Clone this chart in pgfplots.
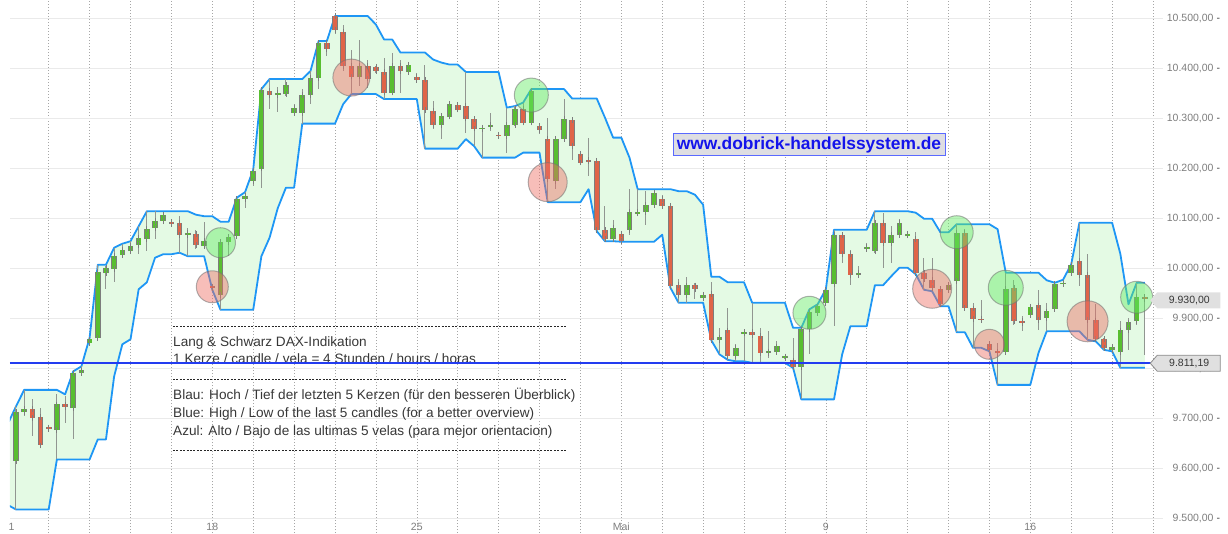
\documentclass[border=0pt]{standalone}
\usepackage{pgfplots}
\pgfplotsset{compat=1.18}
\usepackage{pgfplotstable}
\usepgfplotslibrary{fillbetween}
\usepackage{fontspec}
\setmainfont{Liberation Sans}
\definecolor{candlegreen}{RGB}{88,190,48}
\definecolor{candlered}{RGB}{224,100,72}
\definecolor{bodygray}{RGB}{125,125,125}
\definecolor{wickgray}{RGB}{145,150,145}
\definecolor{bandblue}{RGB}{30,150,245}
\definecolor{bandfill}{RGB}{228,250,228}
\definecolor{priceblue}{RGB}{35,60,240}
\definecolor{gridgray}{RGB}{234,234,234}
\definecolor{labelgray}{RGB}{125,125,125}
\definecolor{textgray}{RGB}{55,55,55}
\definecolor{circgreen}{RGB}{100,235,100}
\definecolor{circred}{RGB}{238,110,100}
\definecolor{wmblue}{RGB}{20,20,235}
\definecolor{wmfill}{RGB}{222,222,226}
\definecolor{wmborder}{RGB}{90,105,255}
\definecolor{tagfill}{RGB}{224,224,224}
\newcommand{\ylabdash}{\hspace{3pt}\textcolor{black!75}{-}}
\pgfplotsset{
  gcirc/.style={only marks, mark=*, mark size=#1, forget plot,
    mark options={fill=circgreen, fill opacity=0.45, draw=black!55, draw opacity=0.55, line width=1pt}},
  rcirc/.style={only marks, mark=*, mark size=#1, forget plot,
    mark options={fill=circred, fill opacity=0.45, draw=black!55, draw opacity=0.55, line width=1pt}},
}

\pgfplotstableread{
i o h l c
1 9615 9725 9519 9714
2 9714 9758 9705 9720
3 9720 9740 9665 9702
4 9704 9722 9642 9647
5 9683 9686 9678 9680
6 9678 9749 9619 9729
7 9729 9745 9692 9724
8 9722 9795 9659 9792
9 9792 9805 9785 9797
10 9852 9862 9849 9859
11 9862 10008 9859 9994
12 9992 10005 9959 10002
13 10000 10042 9973 10025
14 10027 10050 10022 10038
15 10035 10055 10029 10046
16 10048 10085 10029 10061
17 10060 10115 10035 10080
18 10082 10115 10059 10095
19 10095 10108 10092 10107
20 10094 10099 10088 10090
21 10091 10105 10032 10068
22 10068 10082 10025 10072
23 10070 10078 10039 10047
24 10045 10094 10042 10055
25 9965 9969 9958 9962
26 9947 10058 9918 10054
27 10054 10068 10025 10064
28 10065 10142 10062 10139
29 10140 10153 10121 10145
30 10175 10198 10165 10195
31 10200 10359 10162 10357
32 10355 10379 10319 10347
33 10347 10364 10313 10351
34 10349 10379 10345 10368
35 10311 10330 10305 10322
36 10311 10360 10290 10347
37 10347 10395 10329 10381
38 10381 10455 10359 10451
39 10451 10455 10425 10439
40 10505 10505 10470 10477
41 10474 10488 10395 10405
42 10405 10438 10349 10384
43 10384 10458 10365 10405
44 10405 10418 10362 10380
45 10404 10405 10392 10395
46 10393 10422 10339 10352
47 10352 10432 10349 10405
48 10405 10418 10352 10395
49 10393 10412 10392 10408
50 10384 10392 10375 10377
51 10378 10408 10240 10317
52 10315 10335 10279 10287
53 10287 10312 10259 10305
54 10304 10333 10299 10330
55 10327 10330 10315 10318
56 10326 10393 10272 10300
57 10299 10304 10245 10280
58 10279 10288 10222 10282
59 10284 10312 10275 10287
60 10268 10270 10264 10265
61 10265 10322 10232 10287
62 10287 10325 10285 10320
63 10320 10332 10289 10292
64 10292 10359 10289 10356
65 10285 10288 10270 10277
66 10260 10302 10133 10179
67 10175 10264 10159 10260
68 10259 10340 10255 10300
69 10297 10302 10218 10245
70 10230 10235 10209 10212
71 10217 10262 10185 10215
72 10216 10222 10075 10077
73 10077 10125 10055 10059
74 10059 10098 10059 10082
75 10070 10072 10054 10055
76 10078 10159 10068 10113
77 10110 10159 10108 10114
78 10114 10155 10087 10127
79 10127 10155 10125 10152
80 10140 10148 10124 10125
81 10125 10128 9962 9965
82 9967 9980 9932 9947
83 9948 9984 9932 9967
84 9967 9972 9940 9959
85 9941 9948 9940 9948
86 9950 9973 9857 9857
87 9857 9882 9829 9863
88 9877 9921 9818 9825
89 9825 9849 9815 9842
90 9871 9879 9815 9874
91 9874 9932 9812 9868
92 9866 9882 9812 9832
93 9832 9875 9822 9835
94 9834 9855 9830 9845
95 9822 9825 9820 9825
96 9817 9862 9802 9804
97 9804 9882 9739 9879
98 9879 9919 9829 9913
99 9912 9929 9905 9925
100 9932 9959 9930 9957
101 9969 10078 9885 10067
102 10067 10073 10012 10029
103 10030 10037 9967 9987
104 9987 10005 9985 9992
105 10040 10052 10040 10043
106 10035 10115 10032 10092
107 10092 10112 10002 10052
108 10052 10085 10012 10067
109 10068 10100 10062 10092
110 10067 10073 10065 10070
111 10059 10073 9989 9992
112 9992 10022 9958 9980
113 9977 10022 9955 9962
114 9960 9962 9925 9929
115 9958 9972 9955 9968
116 9975 10089 9873 10072
117 10072 10079 9918 9922
118 9921 9931 9842 9900
119 9900 9938 9895 9898
120 9850 9852 9835 9837
121 9835 9852 9768 9832
122 9833 9992 9832 9960
123 9962 9977 9888 9895
124 9895 9905 9875 9892
125 9908 9925 9906 9924
126 9927 9958 9878 9898
127 9902 9932 9875 9915
128 9920 9972 9915 9969
129 9970 9978 9964 9972
130 9992 10009 9990 10007
131 10015 10092 9965 9988
132 9988 10030 9858 9898
133 9897 9929 9855 9860
134 9860 9862 9838 9842
135 9837 9845 9835 9844
136 9833 9895 9802 9877
137 9878 9902 9838 9893
138 9895 9972 9888 9944
139 9944 9945 9828 9940
}\candles

\pgfplotstableread{
i up lo
0 9690 9528
1 9725 9519
2 9758 9519
3 9758 9519
4 9758 9519
5 9758 9519
6 9758 9619
7 9749 9619
8 9795 9619
9 9805 9619
10 9862 9619
11 10008 9659
12 10008 9659
13 10042 9785
14 10050 9849
15 10055 9859
16 10085 9959
17 10115 9973
18 10115 10022
19 10115 10029
20 10115 10029
21 10115 10032
22 10115 10025
23 10108 10025
24 10105 10025
25 10105 9958
26 10094 9918
27 10094 9918
28 10142 9918
29 10153 9918
30 10198 9918
31 10359 10025
32 10379 10062
33 10379 10121
34 10379 10162
35 10379 10162
36 10379 10290
37 10395 10290
38 10455 10290
39 10455 10290
40 10505 10290
41 10505 10329
42 10505 10349
43 10505 10349
44 10505 10349
45 10488 10349
46 10458 10339
47 10458 10339
48 10432 10339
49 10432 10339
50 10432 10339
51 10432 10240
52 10418 10240
53 10412 10240
54 10408 10240
55 10408 10240
56 10393 10259
57 10393 10245
58 10393 10222
59 10393 10222
60 10393 10222
61 10322 10222
62 10325 10222
63 10332 10232
64 10359 10232
65 10359 10232
66 10359 10133
67 10359 10133
68 10359 10133
69 10340 10133
70 10340 10133
71 10340 10159
72 10340 10075
73 10302 10055
74 10262 10055
75 10262 10054
76 10222 10054
77 10159 10054
78 10159 10054
79 10159 10054
80 10159 10068
81 10159 9962
82 10155 9932
83 10155 9932
84 10148 9932
85 10128 9932
86 9984 9857
87 9984 9829
88 9973 9818
89 9973 9815
90 9973 9815
91 9932 9812
92 9932 9812
93 9932 9812
94 9932 9812
95 9932 9812
96 9882 9802
97 9882 9739
98 9919 9739
99 9929 9739
100 9959 9739
101 10078 9739
102 10078 9829
103 10078 9885
104 10078 9885
105 10078 9885
106 10115 9967
107 10115 9967
108 10115 9985
109 10115 10002
110 10115 10002
111 10112 9989
112 10100 9958
113 10100 9955
114 10073 9925
115 10073 9925
116 10089 9873
117 10089 9873
118 10089 9842
119 10089 9842
120 10089 9835
121 10079 9768
122 9992 9768
123 9992 9768
124 9992 9768
125 9992 9768
126 9992 9832
127 9977 9875
128 9972 9875
129 9978 9875
130 10009 9875
131 10092 9875
132 10092 9858
133 10092 9855
134 10092 9838
135 10092 9835
136 10030 9802
137 9929 9802
138 9972 9802
139 9972 9802
}\band

\begin{document}
\begin{tikzpicture}[x=1pt,y=1pt]
% info text block
\begin{scope}[font=\fontsize{13.6}{16}\selectfont, text=textgray]
\draw[black!85, line width=0.6pt, dash pattern=on 2pt off 1.4pt] (173,207) -- (566,207);
\draw[black!85, line width=0.6pt, dash pattern=on 2pt off 1.4pt] (173,154) -- (566,154);
\draw[black!85, line width=0.6pt, dash pattern=on 2pt off 1.4pt] (173,83) -- (566,83);
\node[anchor=west, inner sep=0pt, text height=10pt, text depth=3pt] at (173,190) {Lang \& Schwarz DAX-Indikation};
\node[anchor=west, inner sep=0pt, text height=10pt, text depth=3pt] at (173,173) {1 Kerze / candle / vela = 4 Stunden / hours / horas};
\node[anchor=west, inner sep=0pt, text height=10pt, text depth=3pt] at (173,137) {Blau: Hoch / Tief der letzten 5 Kerzen (für den besseren Überblick)};
\node[anchor=west, inner sep=0pt, text height=10pt, text depth=3pt] at (173,119) {Blue: High / Low of the last 5 candles (for a better overview)};
\node[anchor=west, inner sep=0pt, text height=10pt, text depth=3pt] at (173,101) {Azul: Alto / Bajo de las ultimas 5 velas (para mejor orientacion)};
\end{scope}

\begin{axis}[
  at={(9.85pt,0pt)}, anchor=south west,
  width=1153.4pt, height=533pt, scale only axis,
  xmin=0.25, xmax=141.25, ymin=9472, ymax=10537,
  axis line style={draw=none},
  tick style={draw=none},
  scaled y ticks=false, scaled x ticks=false,
  xtick={25,50,75,100,125},
  xticklabels={18,25,Mai,9,16},
  extra x ticks={0.45},
  extra x tick labels={1},
  extra x tick style={grid=none},
  minor xtick={5,10,...,140},
  xmajorgrids, xminorgrids,
  major x grid style={dash pattern=on 1pt off 2pt, black!35, line width=0.6pt},
  minor x grid style={dash pattern=on 1pt off 2pt, black!35, line width=0.6pt},
  ytick={9500,9600,9700,9800,9900,10000,10100,10200,10300,10400,10500},
  yticklabels={{9.500,00\ylabdash},{9.600,00\ylabdash},{9.700,00\ylabdash},{9.800,00\ylabdash},{9.900,00\ylabdash},{10.000,00\ylabdash},{10.100,00\ylabdash},{10.200,00\ylabdash},{10.300,00\ylabdash},{10.400,00\ylabdash},{10.500,00\ylabdash}},
  ymajorgrids,
  major y grid style={gridgray, line width=1pt},
  yticklabel pos=right,
  x tick label style={anchor=south, inner sep=0pt, yshift=2.5pt, font=\fontsize{10.5}{12}\selectfont, text=labelgray},
  y tick label style={anchor=east, inner sep=0pt, xshift=57pt, font=\fontsize{10.5}{12}\selectfont, text=labelgray},
]
% band
\addplot[draw=none, name path=up, forget plot] table[x=i, y=up] {\band};
\addplot[draw=none, name path=lo, forget plot] table[x=i, y=lo] {\band};
\addplot[bandfill, forget plot] fill between[of=up and lo];
\addplot[bandblue, line width=1.8pt, line join=round, forget plot] table[x=i, y=up] {\band};
\addplot[bandblue, line width=1.8pt, line join=round, forget plot] table[x=i, y=lo] {\band};
% wicks
\addplot[draw=none, mark=none, forget plot,
  error bars/.cd, y dir=both, y explicit,
  error bar style={draw=wickgray, line width=1pt}, error mark=none]
  table[x=i, y expr={(\thisrow{h}+\thisrow{l})/2}, y error expr={(\thisrow{h}-\thisrow{l})/2}] {\candles};
% bodies: border
\addplot[draw=none, mark=none, forget plot,
  error bars/.cd, y dir=both, y explicit,
  error bar style={draw=bodygray, line width=5.6pt}, error mark=none]
  table[x=i, y expr={(\thisrow{o}+\thisrow{c})/2}, y error expr={abs(\thisrow{c}-\thisrow{o})/2}] {\candles};
% green bodies
\addplot[draw=none, mark=none, forget plot,
  restrict expr to domain={\thisrow{c}-\thisrow{o}}{0:5000},
  error bars/.cd, y dir=both, y explicit,
  error bar style={draw=candlegreen, line width=3.8pt},
  error mark=-, error mark options={draw=bodygray, line width=0.8pt, mark size=2.8pt}]
  table[x=i, y expr={(\thisrow{o}+\thisrow{c})/2}, y error expr={abs(\thisrow{c}-\thisrow{o})/2}] {\candles};
% red bodies
\addplot[draw=none, mark=none, forget plot,
  restrict expr to domain={\thisrow{c}-\thisrow{o}}{-5000:0},
  error bars/.cd, y dir=both, y explicit,
  error bar style={draw=candlered, line width=3.8pt},
  error mark=-, error mark options={draw=bodygray, line width=0.8pt, mark size=2.8pt}]
  table[x=i, y expr={(\thisrow{o}+\thisrow{c})/2}, y error expr={abs(\thisrow{c}-\thisrow{o})/2}] {\candles};
% signal circles
\addplot[gcirc=15pt] coordinates {(26,10052)};
\addplot[gcirc=17pt] coordinates {(64,10347)};
\addplot[gcirc=16.5pt] coordinates {(98,9912)};
\addplot[gcirc=16.5pt] coordinates {(116,10073)};
\addplot[gcirc=17.5pt] coordinates {(122,9962)};
\addplot[gcirc=16pt] coordinates {(138,9943)};
\addplot[rcirc=16pt] coordinates {(25,9964)};
\addplot[rcirc=18.5pt] coordinates {(42,10382)};
\addplot[rcirc=19.5pt] coordinates {(66,10173)};
\addplot[rcirc=19.5pt] coordinates {(113,9960)};
\addplot[rcirc=15pt] coordinates {(120,9849)};
\addplot[rcirc=20.5pt] coordinates {(132,9895)};
% last price line
\addplot[priceblue, line width=1.6pt, forget plot] coordinates {(0.25,9811.19) (141.25,9811.19)};
\coordinate (tagA) at (axis cs:141.25,9811.19);
\coordinate (tagB) at (axis cs:141.25,9937);
\end{axis}

% price tags
\draw[fill=tagfill, draw=black!45, line width=0.8pt] ([xshift=-13pt]tagA) -- ++(7,8) -- ++(63,0) -- ++(0,-16) -- ++(-63,0) -- cycle;
\node[font=\fontsize{10.5}{12}\selectfont, text=textgray] at ([xshift=26pt]tagA) {9.811,19};
\draw[fill=tagfill, draw=none] ([xshift=-13pt]tagB) -- ++(7,8) -- ++(63,0) -- ++(0,-16) -- ++(-63,0) -- cycle;
\node[font=\fontsize{10.5}{12}\selectfont, text=textgray] at ([xshift=26pt]tagB) {9.930,00};

% watermark
\draw[fill=wmfill, draw=wmborder, line width=1pt] (673,377) rectangle (945,399);
\node[font=\bfseries\fontsize{17.4}{20}\selectfont, text=wmblue] at (809,388) {www.dobrick-handelssystem.de};

\pgfresetboundingbox
\useasboundingbox (0,0) rectangle (1228,533);
\end{tikzpicture}
\end{document}
